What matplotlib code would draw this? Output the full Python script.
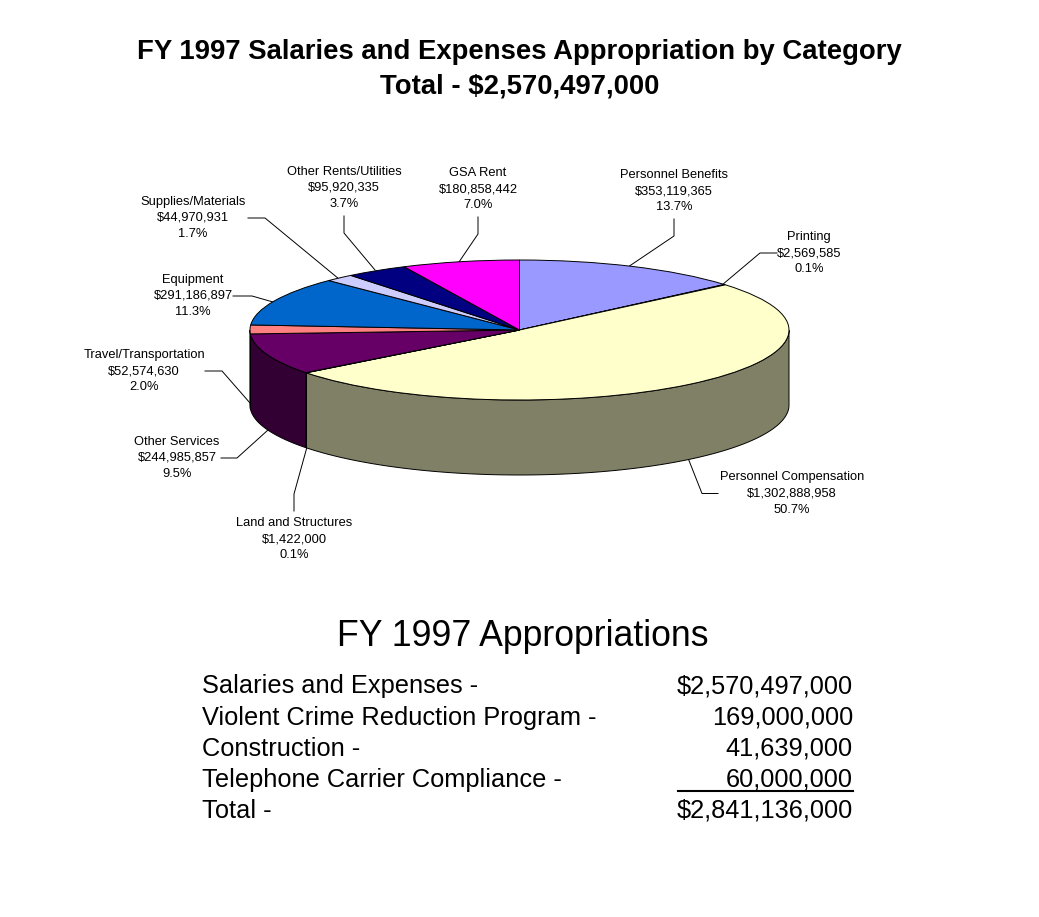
# -*- coding: utf-8 -*-

import numpy as np
import matplotlib
matplotlib.use('Agg')
import matplotlib.pyplot as plt
from matplotlib.patches import Polygon

plt.rcParams['font.family'] = ['Liberation Sans', 'DejaVu Sans']

W, H = 1039, 917

# Pie slices, clockwise from the top
categories = ['Personnel Benefits', 'Printing', 'Personnel Compensation',
              'Land and Structures', 'Other Services', 'Travel/Transportation',
              'Equipment', 'Supplies/Materials', 'Other Rents/Utilities', 'GSA Rent']
amounts = [353119365, 2569585, 1302888958, 1422000, 244985857,
           52574630, 291186897, 44970931, 95920335, 180858442]
colors = ['#9999FF', '#993366', '#FFFFCC', '#CCFFFF', '#660066',
          '#FF8080', '#0066CC', '#CCCCFF', '#000080', '#FF00FF']
total_sal = 2570497000

# Label centre (x, y of the middle line) and leader path, in pixels
label_pos = [(674, 191), (809, 253), (792, 493.5), (294, 539), (177, 458),
             (144, 371), (193, 296), (193, 218), (344, 188), (478, 189)]
leaders = [[(674, 219), (674, 236), (628, 267)],
           [(777, 253), (760, 253), (722, 285)],
           [(718, 493.5), (702, 493.5), (688, 458)],
           [(294, 511), (294, 494), (307, 447)],
           [(221, 458), (237, 458), (268, 430)],
           [(205, 371), (222, 371), (250, 403)],
           [(233, 296), (252, 296), (273, 302)],
           [(248, 218), (265, 218), (339, 279)],
           [(344, 216), (344, 233), (375, 270)],
           [(478, 217), (478, 234), (459, 262)]]

# Table under the pie
table_names = ['Salaries and Expenses -', 'Violent Crime Reduction Program -',
               'Construction -', 'Telephone Carrier Compliance -', 'Total -']
table_values = ['$2,570,497,000', '169,000,000', '41,639,000', '60,000,000', '$2,841,136,000']
table_rows = [693.5, 724.5, 755.5, 786.5, 817.5]

fig = plt.figure(figsize=(W/100, H/100), dpi=100, facecolor='white')

# Text and leaders are placed in pixel coordinates
ax = fig.add_axes([0, 0, 1, 1])
ax.set_xlim(0, W)
ax.set_ylim(H, 0)
ax.axis('off')

# Ellipse of the pie top
cx, cy, rx, ry, depth = 519.5, 330, 269.5, 70, 75
pie_ax = fig.add_axes([(cx-rx)/W, (H-cy-ry)/H, 2*rx/W, 2*ry/H])
wedges, _ = pie_ax.pie(amounts, colors=colors, startangle=90, counterclock=False,
                       wedgeprops={'edgecolor': 'black', 'linewidth': 0.7, 'zorder': 3})
pie_ax.set_aspect('auto')
pie_ax.set_xlim(-1, 1)
pie_ax.set_ylim(-1, 1)
for w in wedges:
    w.set_clip_on(False)

# Side wall of the front half, darkened slice colours
d = depth/ry
fracs = np.cumsum([0] + amounts)/sum(amounts)
for i, col in enumerate(colors):
    t = np.radians(90 - 360*np.linspace(fracs[i], fracs[i+1], 200))
    t = t[np.sin(t) <= 0]
    if len(t) < 2:
        continue
    x, y = np.cos(t), np.sin(t)
    pts = np.r_[np.c_[x, y], np.c_[x, y-d][::-1]]
    dark = tuple(0.5*c for c in matplotlib.colors.to_rgb(col))
    pie_ax.add_patch(Polygon(pts, closed=True, facecolor=dark, edgecolor='black',
                             linewidth=0.7, zorder=1, clip_on=False))

# Slice labels
for name, val, pos, path in zip(categories, amounts, label_pos, leaders):
    txt = '%s\n$%s\n%.1f%%' % (name, format(val, ','), 100.0*val/total_sal)
    ax.text(pos[0], pos[1], txt, ha='center', va='center', fontsize=9.3, linespacing=1.45)
    ax.plot([p[0] for p in path], [p[1] for p in path], color='black', lw=0.7)

ax.text(519.5, 52, 'FY 1997 Salaries and Expenses Appropriation by Category',
        ha='center', va='center', fontsize=19.8, fontweight='bold')
ax.text(519.5, 87, 'Total - $2,570,497,000', ha='center', va='center',
        fontsize=19.8, fontweight='bold')
ax.text(523, 636, 'FY 1997 Appropriations', ha='center', va='center', fontsize=25.7)

for name, val, y in zip(table_names, table_values, table_rows):
    ax.text(202, y, name, ha='left', va='baseline', fontsize=18.25)
    ax.text(853, y, val, ha='right', va='baseline', fontsize=18.25)
ax.plot([678, 853], [791, 791], color='black', lw=1.5)

fig.savefig('out.png', dpi=100)
